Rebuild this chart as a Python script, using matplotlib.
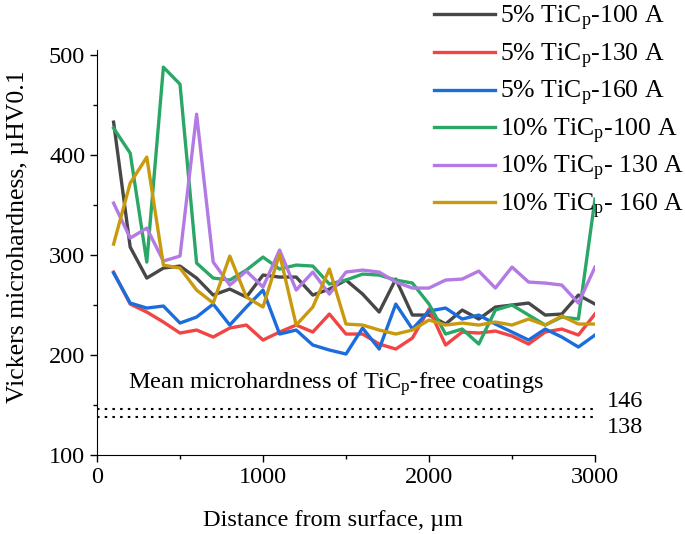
import numpy as np
import matplotlib
matplotlib.use('Agg')
import matplotlib.pyplot as plt
from matplotlib.ticker import MultipleLocator

plt.rcParams['font.family'] = ['Liberation Serif', 'DejaVu Serif']
plt.rcParams['mathtext.fontset'] = 'custom'
plt.rcParams['mathtext.rm'] = 'Liberation Serif'
plt.rcParams['mathtext.it'] = 'Liberation Serif:italic'
plt.rcParams['font.size'] = 17.5

# distance from surface, um
distance = list(range(100, 3001, 100))

# microhardness readings, uHV0.1
tic5_100 = [433, 308, 277, 287, 289, 277, 260, 266, 258, 280, 278, 278, 260, 266, 275,
            261, 243, 276, 240, 240, 231, 245, 236, 248, 250, 252, 240, 241, 260, 251]
tic5_130 = [283, 251, 243, 233, 222, 225, 218, 227, 230, 215, 223, 230, 223, 241, 221,
            221, 211, 206, 217, 246, 210, 223, 222, 224, 219, 211, 223, 226, 220, 241]
tic5_160 = [282, 252, 247, 249, 232, 238, 251, 230, 248, 265, 221, 225, 210, 205, 201,
            227, 206, 251, 226, 244, 247, 236, 240, 231, 223, 215, 226, 218, 208, 220]
tic10_100 = [427, 402, 293, 488, 471, 292, 277, 275, 285, 298, 286, 290, 289, 271, 275,
             281, 280, 275, 272, 251, 221, 226, 211, 245, 250, 240, 230, 238, 236, 356]
tic10_130 = [352, 317, 327, 294, 299, 441, 293, 270, 284, 268, 305, 265, 283, 261, 283,
             285, 283, 273, 267, 267, 275, 276, 284, 267, 288, 273, 272, 270, 252, 288]
tic10_160 = [311, 372, 398, 290, 287, 265, 252, 299, 258, 248, 301, 230, 248, 286, 231,
             230, 225, 221, 225, 235, 230, 232, 230, 233, 230, 236, 230, 239, 231, 231]

labels = ['5% TiC$_\\mathrm{p}$-100 A', '5% TiC$_\\mathrm{p}$-130 A', '5% TiC$_\\mathrm{p}$-160 A',
          '10% TiC$_\\mathrm{p}$-100 A', '10% TiC$_\\mathrm{p}$- 130 A', '10% TiC$_\\mathrm{p}$- 160 A']
colors = ['#474747', '#f24444', '#1c6ddc', '#2aa767', '#b47ae3', '#c99a0e']

free_means = [146, 138]

fig = plt.figure(figsize=(6.85, 5.34), dpi=100)
ax = fig.add_axes([0.1416, 0.148, 0.727, 0.758])

series = [tic5_100, tic5_130, tic5_160, tic10_100, tic10_130, tic10_160]
for vals, lab, c in zip(series, labels, colors):
    ax.plot(distance, vals, color=c, lw=2.4, label=lab)

# TiCp-free reference levels
for m in free_means:
    ax.plot([0, 3000], [m, m], color='black', lw=1.5, ls=(0, (1.2, 2.5)))

ax.text(1440, 171, 'Mean microhardness of TiC$_\\mathrm{p}$-free coatings', ha='center', va='center')
ax.text(3070, 153, str(free_means[0]), ha='left', va='center', clip_on=False)
ax.text(3070, 127, str(free_means[1]), ha='left', va='center', clip_on=False)

ax.set_xlim(0, 3000)
ax.set_ylim(100, 505)
ax.xaxis.set_major_locator(MultipleLocator(1000))
ax.xaxis.set_minor_locator(MultipleLocator(500))
ax.yaxis.set_major_locator(MultipleLocator(100))
ax.yaxis.set_minor_locator(MultipleLocator(50))
ax.tick_params(which='major', direction='out', length=5, width=1)
ax.tick_params(which='minor', direction='out', length=3, width=1)
ax.spines['top'].set_visible(False)
ax.spines['right'].set_visible(False)

ax.set_xlabel('Distance from surface, µm')
ax.xaxis.set_label_coords(0.474, -0.135)
ax.set_ylabel('Vickers microhardness, µHV0.1', fontsize=18.5)
ax.yaxis.set_label_coords(-0.137, 0.54)

fig.legend(loc='upper left', bbox_to_anchor=(0.618, 1.012), frameon=False, fontsize=18.5,
           handlelength=2.4, handletextpad=0.2, labelspacing=0.33, borderaxespad=0)

fig.savefig('out.png', dpi=100)
